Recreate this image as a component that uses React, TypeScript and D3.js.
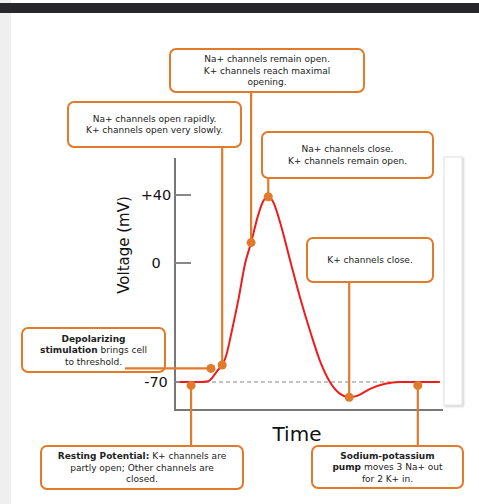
import * as d3 from 'd3';

// ─── Data ───────────────────────────────────────────────────

// membrane potential trace (time in ms, voltage in mV)
const TIME = [0.09, 0.47, 0.62, 0.73, 0.8, 0.88, 0.95, 1.06, 1.18, 1.31, 1.42, 1.55, 1.64, 1.74, 1.83, 1.96, 2.16, 2.33, 2.52, 2.71, 2.89, 3.08, 3.25, 3.41, 3.64, 3.92, 4.2, 4.57, 4.94];
const VOLTAGE = [-70, -70, -69.5, -66, -63, -60, -55, -40, -22, 0, 12, 28, 36, 39, 36, 24, 0, -20, -40, -58, -70, -77, -79, -78, -74, -71, -70, -70, -70];

const Y_TICKS = [40, 0, -70];
const Y_TICK_LABELS = ['+40', '0', '-70'];
const RESTING = -70;

const Y_LABEL = 'Voltage (mV)';
const X_LABEL = 'Time';

type Seg = { t: string; b?: boolean };

// annotation text + the point on the trace it refers to
const NOTE_TEXT: Seg[][][] = [
  [[{ t: 'Na+ channels remain open.' }], [{ t: 'K+ channels reach maximal' }], [{ t: 'opening.' }]],
  [[{ t: 'Na+ channels open rapidly.' }], [{ t: 'K+ channels open very slowly.' }]],
  [[{ t: 'Na+ channels close.' }], [{ t: 'K+ channels remain open.' }]],
  [[{ t: 'K+ channels close.' }]],
  [[{ t: 'Depolarizing', b: true }], [{ t: 'stimulation', b: true }, { t: ' brings cell' }], [{ t: 'to threshold.' }]],
  [[{ t: 'Resting Potential:', b: true }, { t: ' K+ channels are' }], [{ t: 'partly open; Other channels are' }], [{ t: 'closed.' }]],
  [[{ t: 'Sodium-potassium', b: true }], [{ t: 'pump', b: true }, { t: ' moves 3 Na+ out' }], [{ t: 'for 2 K+ in.' }]],
];
const NOTE_T = [1.42, 0.88, 1.74, 3.25, 0.67, 0.3, 4.53];
const NOTE_V = [12, -60, 39, -79, -62, -72, -72];

// ─── Layout ─────────────────────────────────────────────────

const W = 479;
const H = 504;
const ORANGE = '#e27a2c';

// box geometry and which side the connector leaves from
const BOXES = [
  { x: 170, y: 49, w: 194, h: 43, side: 'bottom' },
  { x: 68, y: 102, w: 173, h: 45, side: 'bottom' },
  { x: 262, y: 132, w: 171, h: 46, side: 'bottom' },
  { x: 307, y: 238, w: 126, h: 44, side: 'bottom' },
  { x: 22, y: 328, w: 143, h: 44, side: 'left' },
  { x: 41, y: 446, w: 202, h: 43, side: 'top' },
  { x: 312, y: 446, w: 151, h: 42, side: 'top' },
];

const x = d3.scaleLinear().domain([0, 5]).range([175, 443]);
const y = d3.scaleLinear().domain([-70, 40]).range([382, 195]);

const trace = d3
  .line<number>()
  .x((_, i) => x(TIME[i]))
  .y((d) => y(d))
  .curve(d3.curveMonotoneX);

export default function App() {
  return (
    <div style={{ position: 'absolute', left: 0, top: 0 }}>
      <svg width={W} height={H} style={{ display: 'block', fontFamily: 'DejaVu Sans, sans-serif' }}>
        <defs>
          <filter id="sh" x="-50%" y="-10%" width="200%" height="120%">
            <feDropShadow dx="1" dy="1" stdDeviation="1.2" floodColor="#000" floodOpacity="0.25" />
          </filter>
        </defs>
        <rect width={W} height={H} fill="#fff" />
        {/* page chrome */}
        <rect x={0} y={0} width={8} height={H} fill="#efefef" />
        <rect x={8} y={0} width={3} height={H} fill="#e4e4e4" opacity={0.6} />
        <rect x={0} y={3} width={W} height={10} fill="#26262b" />
        <rect x={444} y={157} width={18} height={248} fill="#fff" stroke="#e2e2e2" filter="url(#sh)" />

        {/* axes */}
        <line x1={175} x2={175} y1={158} y2={410} stroke="#777" strokeWidth={2} />
        <line x1={174} x2={443} y1={410} y2={410} stroke="#777" strokeWidth={2} />
        {Y_TICKS.map((v, i) => (
          <g key={v}>
            <line x1={175} x2={191} y1={y(v)} y2={y(v)} stroke="#888" strokeWidth={2} />
            <text x={156} y={y(v)} dy="0.36em" textAnchor="middle" fontSize={14.5} fill="#111">
              {Y_TICK_LABELS[i]}
            </text>
          </g>
        ))}
        <text transform="translate(129,245) rotate(-90)" textAnchor="middle" fontSize={15} fill="#111">
          {Y_LABEL}
        </text>
        <text x={297} y={441} textAnchor="middle" fontSize={20} fill="#111">
          {X_LABEL}
        </text>

        {/* resting line + trace */}
        <line x1={177} x2={440} y1={y(RESTING)} y2={y(RESTING)} stroke="#888" strokeWidth={1.2} strokeDasharray="4 3" />
        <path d={trace(VOLTAGE) ?? ''} fill="none" stroke="#ee1d1d" strokeWidth={2} />

        {/* annotation boxes */}
        {BOXES.map((b, i) => {
          const cx = b.x + b.w / 2;
          const lines = NOTE_TEXT[i];
          const lh = 11.5;
          const y0 = b.y + b.h / 2 - ((lines.length - 1) * lh) / 2;
          return (
            <g key={i}>
              <rect x={b.x} y={b.y} width={b.w} height={b.h} rx={6} fill="#fff" stroke={ORANGE} strokeWidth={2} />
              {lines.map((segs, j) => (
                <text key={j} x={cx} y={y0 + j * lh} dy="0.35em" textAnchor="middle" fontSize={9} fill="#222">
                  {segs.map((s, k) => (
                    <tspan key={k} fontWeight={s.b ? 'bold' : 'normal'}>
                      {s.t}
                    </tspan>
                  ))}
                </text>
              ))}
            </g>
          );
        })}

        {/* connectors + dots */}
        {BOXES.map((b, i) => {
          const px = x(NOTE_T[i]);
          const py = y(NOTE_V[i]);
          let x1 = px;
          let y1 = b.y + b.h;
          if (b.side === 'top') y1 = b.y;
          if (b.side === 'left') {
            x1 = 125;
            y1 = py;
          }
          return (
            <g key={i}>
              <line x1={x1} y1={y1} x2={px} y2={py} stroke={ORANGE} strokeWidth={2.2} />
              <circle cx={px} cy={py} r={4.5} fill={ORANGE} />
            </g>
          );
        })}
      </svg>
    </div>
  );
}
